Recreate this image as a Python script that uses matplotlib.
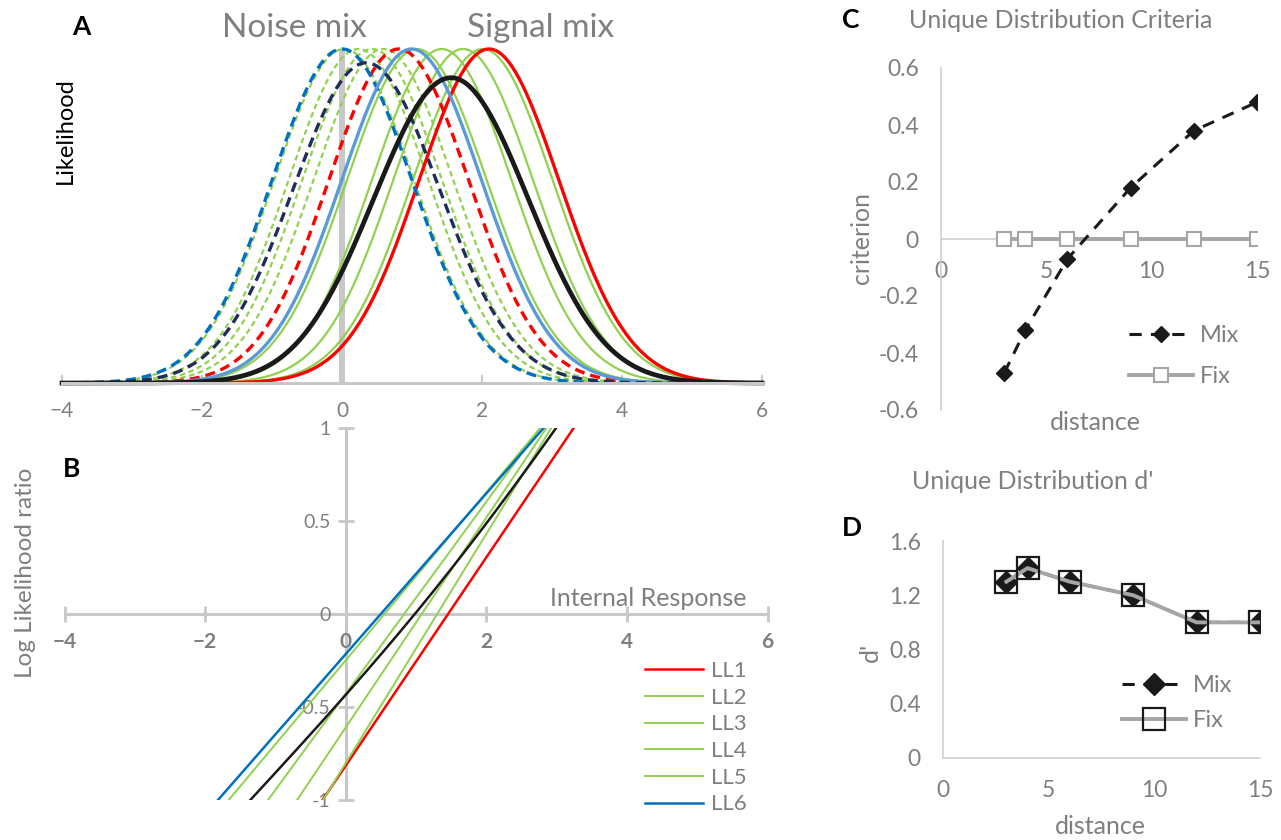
import numpy as np
import matplotlib
matplotlib.use('Agg')
import matplotlib.pyplot as plt

plt.rcParams['font.family'] = ['Lato', 'DejaVu Sans']

# component distributions (unit variance), one noise/signal pair per LL line
ll_labels = ['LL1', 'LL2', 'LL3', 'LL4', 'LL5', 'LL6']
noise_means = [0.81, 0.59, 0.43, 0.235, 0.03, 0.0]
signal_means = [2.10, 2.01, 1.73, 1.425, 1.07, 0.995]
noise_colors = ['#ff0000', '#92d050', '#92d050', '#92d050', '#92d050', '#0070c0']
signal_colors = ['#ff0000', '#92d050', '#92d050', '#92d050', '#92d050', '#5b9bd5']
ll_colors = ['#ff0000', '#92d050', '#92d050', '#92d050', '#92d050', '#0070c0']

# panels C and D
distance = [3, 4, 6, 9, 12, 15]
crit_mix = [-0.47, -0.32, -0.07, 0.18, 0.38, 0.48]
crit_fix = [0, 0, 0, 0, 0, 0]
dprime_mix = [1.3, 1.4, 1.3, 1.2, 1.0, 1.0]
dprime_fix = [1.3, 1.4, 1.3, 1.2, 1.0, 1.0]

GRAY = '#7f7f7f'


def gauss(x, m):
    return np.exp(-0.5 * (x - m) ** 2)


fig = plt.figure(figsize=(12.81, 8.4), dpi=100)
W, H = 1281, 840


def add_ax(x0, y0, x1, y1):
    # pixel box -> figure fraction
    return fig.add_axes([x0 / W, 1 - y1 / H, (x1 - x0) / W, (y1 - y0) / H])


def px(x, y):
    return x / W, 1 - y / H


# ---------------- Panel A ----------------
axA = add_ax(62, 49, 762, 383)
x = np.linspace(-4, 6, 401)
axA.axvline(0, color='#c8c8c8', lw=4.3, zorder=1)

noise_curves = [gauss(x, m) for m in noise_means]
signal_curves = [gauss(x, m) for m in signal_means]
noise_mix = np.mean(noise_curves, axis=0)
signal_mix = np.mean(signal_curves, axis=0)

for i in range(1, 5):
    axA.plot(x, noise_curves[i], color=noise_colors[i], lw=1.6, ls=(0, (2.5, 1.6)), clip_on=False)
    axA.plot(x, signal_curves[i], color=signal_colors[i], lw=1.6, clip_on=False)
for i in (0, 5):
    axA.plot(x, noise_curves[i], color=noise_colors[i], lw=2.4, ls=(0, (3, 1.8)), clip_on=False)
    axA.plot(x, signal_curves[i], color=signal_colors[i], lw=2.4, clip_on=False)
axA.plot(x, noise_mix, color='#1f2d5a', lw=2.4, ls=(0, (3, 1.8)), clip_on=False)
axA.plot(x, signal_mix, color='#1a1a1a', lw=3.4, clip_on=False)

axA.set_xlim(-4, 6)
axA.set_ylim(0, 1)
for s in ('left', 'top', 'right'):
    axA.spines[s].set_visible(False)
axA.spines['bottom'].set_color('#c8c8c8')
axA.spines['bottom'].set_linewidth(2.2)
axA.set_xticks([-4, -2, 0, 2, 4, 6])
axA.set_yticks([])
axA.tick_params(axis='x', direction='in', length=6, width=1.5, color='#c8c8c8',
                labelcolor=GRAY, labelsize=15, pad=13)
fig.text(*px(65, 131), 'Likelihood', fontsize=17, color='black', rotation=90,
         ha='center', va='center')
fig.text(*px(294, 28), 'Noise mix', fontsize=24, color=GRAY, ha='center', va='center')
fig.text(*px(541, 28), 'Signal mix', fontsize=24, color=GRAY, ha='center', va='center')
fig.text(*px(81, 27), 'A', fontsize=19, fontweight='bold', ha='center', va='center')

# ---------------- Panel B ----------------
axB = add_ax(64.5, 428.3, 767.5, 800)
xb = np.linspace(-4, 6, 401)
log10e = np.log10(np.e)
for i, lab in enumerate(ll_labels):
    d = signal_means[i] - noise_means[i]
    c = (signal_means[i] + noise_means[i]) / 2
    axB.plot(xb, log10e * d * (xb - c), color=ll_colors[i], lw=1.4 if 0 < i < 5 else 1.8,
             label=lab, zorder=3)
axB.plot(xb, np.log10(signal_mix / noise_mix), color='#1a1a1a', lw=1.8, zorder=3)

axB.set_xlim(-4, 6)
axB.set_ylim(-1, 1)
for s in ('top', 'right'):
    axB.spines[s].set_visible(False)
for s in ('left', 'bottom'):
    axB.spines[s].set_position(('data', 0))
    axB.spines[s].set_color('#c8c8c8')
    axB.spines[s].set_linewidth(2.2)
    axB.spines[s].set_zorder(1)
axB.set_xticks([-4, -2, 0, 2, 4, 6])
axB.set_yticks([-1, -0.5, 0, 0.5, 1])
axB.set_yticklabels(['-1', '-0.5', '0', '0.5', '1'])
axB.tick_params(direction='inout', length=12, width=2, color='#c8c8c8', labelcolor=GRAY,
                labelsize=14)
axB.tick_params(axis='x', pad=7, labelsize=15)
axB.tick_params(axis='y', pad=5)
for t in axB.get_xticklabels():
    t.set_fontweight('bold')
fig.text(*px(648, 599), 'Internal Response', fontsize=18, color=GRAY, ha='center', va='center')
fig.text(*px(26, 573), 'Log Likelihood ratio', fontsize=17.5, color=GRAY,
         rotation=90, ha='center', va='center')
fig.text(*px(72, 469), 'B', fontsize=19, fontweight='bold', ha='center', va='center')
axB.legend(loc='upper left', bbox_to_anchor=px(634, 650), bbox_transform=fig.transFigure,
           frameon=False, fontsize=16, labelcolor=GRAY, handlelength=2.6, handletextpad=0.35,
           labelspacing=0.3, borderpad=0)

# ---------------- Panel C ----------------
axC = add_ax(941, 68, 1257, 410)
axC.plot(distance, crit_fix, color='#a6a6a6', lw=2.8, marker='s', markersize=10,
         markerfacecolor='white', markeredgecolor='#a6a6a6', markeredgewidth=1.5, label='Fix', zorder=3)
axC.plot(distance, crit_mix, color='#1a1a1a', lw=2.2, ls=(0, (4, 3)), marker='D', markersize=8,
         markerfacecolor='#1a1a1a', markeredgecolor='#1a1a1a', label='Mix', zorder=4)
axC.set_xlim(0, 15)
axC.set_ylim(-0.6, 0.6)
axC.set_xticks([0, 5, 10, 15])
axC.set_yticks([-0.6, -0.4, -0.2, 0, 0.2, 0.4, 0.6])
axC.set_yticklabels(['-0.6', '-0.4', '-0.2', '0', '0.2', '0.4', '0.6'])
for s in ('top', 'right'):
    axC.spines[s].set_visible(False)
for s in ('left', 'bottom'):
    axC.spines[s].set_position(('data', 0))
    axC.spines[s].set_color('#d0d0d0')
    axC.spines[s].set_linewidth(1.2)
axC.tick_params(length=0, labelcolor=GRAY, labelsize=16.5, pad=16)
fig.text(*px(1061, 21), 'Unique Distribution Criteria', fontsize=18, color=GRAY,
         ha='center', va='center')
fig.text(*px(862, 238), 'criterion', fontsize=18, color=GRAY, rotation=90,
         ha='center', va='center')
fig.text(*px(1095, 422), 'distance', fontsize=18, color=GRAY, ha='center', va='center')
fig.text(*px(851, 20), 'C', fontsize=19, fontweight='bold', ha='center', va='center')
hC, lC = axC.get_legend_handles_labels()
axC.legend(hC[::-1], lC[::-1], loc='upper left', bbox_to_anchor=px(1117, 313),
           bbox_transform=fig.transFigure, frameon=False, fontsize=17, labelcolor=GRAY,
           handlelength=2.7, handletextpad=0.3, labelspacing=0.85, borderpad=0)

# ---------------- Panel D ----------------
axD = add_ax(943, 541, 1260, 758)
axD.plot(distance, dprime_mix, color='#1a1a1a', lw=2.2, ls=(0, (4, 3)), marker='D', markersize=11,
         markerfacecolor='#1a1a1a', markeredgecolor='#1a1a1a', label='Mix', zorder=3)
axD.plot(distance, dprime_fix, color='#a6a6a6', lw=2.8, marker='s', markersize=16,
         markerfacecolor='none', markeredgecolor='#1a1a1a', markeredgewidth=1.6, label='Fix', zorder=4)
axD.set_xlim(0, 15)
axD.set_ylim(0, 1.6)
axD.set_xticks([0, 5, 10, 15])
axD.set_yticks([0, 0.4, 0.8, 1.2, 1.6])
axD.set_yticklabels(['0', '0.4', '0.8', '1.2', '1.6'])
for s in ('top', 'right'):
    axD.spines[s].set_visible(False)
for s in ('left', 'bottom'):
    axD.spines[s].set_color('#d0d0d0')
    axD.spines[s].set_linewidth(1.2)
axD.tick_params(length=0, labelcolor=GRAY, labelsize=16.5, pad=16)
fig.text(*px(1033, 482), "Unique Distribution d'", fontsize=18, color=GRAY,
         ha='center', va='center')
fig.text(*px(870, 652), "d'", fontsize=18, color=GRAY, rotation=90, ha='center', va='center')
fig.text(*px(1100, 826), 'distance', fontsize=18, color=GRAY, ha='center', va='center')
fig.text(*px(852, 528), 'D', fontsize=19, fontweight='bold', ha='center', va='center')
axD.legend(loc='upper left', bbox_to_anchor=px(1110, 663), bbox_transform=fig.transFigure,
           frameon=False, fontsize=17, labelcolor=GRAY, handlelength=2.7, handletextpad=0.3,
           labelspacing=0.6, borderpad=0)

fig.savefig('out.png', dpi=100)
